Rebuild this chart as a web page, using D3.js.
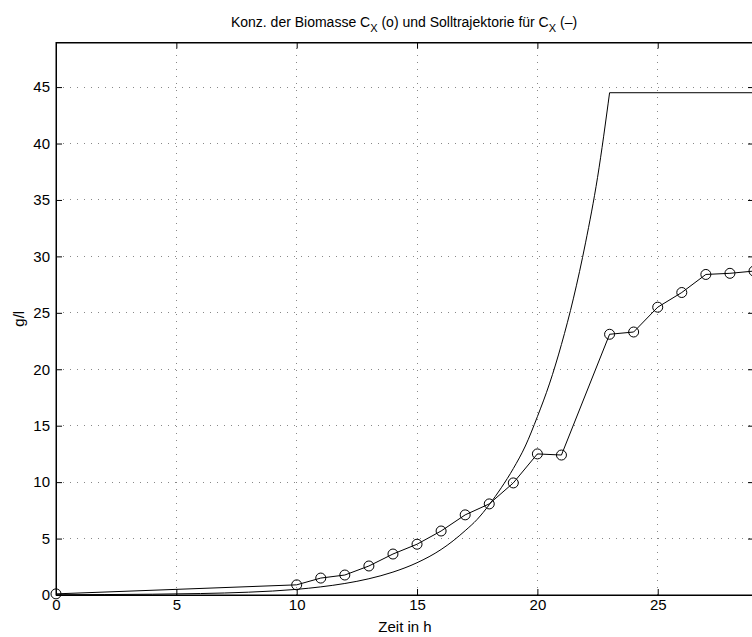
<!DOCTYPE html>
<html><head><meta charset="utf-8">
<script src="https://cdn.jsdelivr.net/npm/d3@7"></script>
<style>html,body{margin:0;padding:0;background:#fff;}svg{display:block;}</style>
</head><body>
<script>
// measured biomass concentration (circles)
const measTime = [0, 10, 11, 12, 13, 14, 15, 16, 17, 18, 19, 20, 21, 23, 24, 25, 26, 27, 28, 29];
const measCx   = [0.1, 0.9, 1.5, 1.77, 2.57, 3.63, 4.5, 5.67, 7.1, 8.07, 9.93, 12.5, 12.4, 23.1, 23.3, 25.5, 26.8, 28.4, 28.5, 28.7];
// reference trajectory (solid line), rising part
const refTime = [0, 2, 4, 6, 8, 10, 11, 12, 13, 14, 15, 16, 16.5, 17, 17.5, 18, 18.5, 19, 19.5, 20, 20.5, 21, 21.5, 22, 22.5, 23];
const refCx   = [0.02, 0.04, 0.07, 0.13, 0.25, 0.5, 0.72, 1.02, 1.44, 2.03, 2.86, 4.03, 4.8, 5.7, 6.7, 8.0, 9.5, 11.2, 13.2, 15.8, 18.7, 22.2, 26.3, 31.2, 37.0, 44.5];
// plateau of the reference trajectory
const plateauTime = [23, 29];
const plateauCx   = [44.5, 44.5];
const xTicks = [0, 5, 10, 15, 20, 25];
const yTicks = [0, 5, 10, 15, 20, 25, 30, 35, 40, 45];
const xDomain = [0, 29];
const yDomain = [0, 48.95];

const W = 752, H = 637;
const L = 56, R = 754, T = 42.5, B = 595;
const FS = 15;
const FONT = "'Liberation Sans', Arial, Helvetica, sans-serif";
const svg = d3.select("body").append("svg").attr("width", W).attr("height", H)
  .style("font-family", FONT);
const x = d3.scaleLinear().domain(xDomain).range([L, R]);
const y = d3.scaleLinear().domain(yDomain).range([B, T]);

// grid
const g = svg.append("g");
g.selectAll(".vg").data(xTicks.filter(d => d > 0)).join("line")
  .attr("x1", d => x(d)).attr("x2", d => x(d)).attr("y1", B).attr("y2", T)
  .attr("stroke", "#888").attr("stroke-width", 1).attr("stroke-dasharray", "1,6").attr("shape-rendering","crispEdges");
g.selectAll(".hg").data(yTicks.filter(d => d > 0)).join("line")
  .attr("x1", L).attr("x2", R).attr("y1", d => y(d)).attr("y2", d => y(d))
  .attr("stroke", "#888").attr("stroke-width", 1).attr("stroke-dasharray", "1,6").attr("shape-rendering","crispEdges");

// box
svg.append("rect").attr("x", L).attr("y", T).attr("width", R - L).attr("height", B - T)
  .attr("fill", "none").attr("stroke", "#000").attr("stroke-width", 1);

// axes (ticks inward)
const ax = svg.append("g").attr("transform", `translate(0,${B})`)
  .call(d3.axisBottom(x).tickValues(xTicks).tickSizeInner(-6).tickSizeOuter(0).tickPadding(4));
const axT = svg.append("g").attr("transform", `translate(0,${T})`)
  .call(d3.axisTop(x).tickValues(xTicks).tickSizeInner(-6).tickSizeOuter(0).tickFormat(""));
const ay = svg.append("g").attr("transform", `translate(${L},0)`)
  .call(d3.axisLeft(y).tickValues(yTicks).tickSizeInner(-6).tickSizeOuter(0).tickPadding(6));
const ayR = svg.append("g").attr("transform", `translate(${R},0)`)
  .call(d3.axisRight(y).tickValues(yTicks).tickSizeInner(-6).tickSizeOuter(0).tickFormat(""));
[ax, axT, ay, ayR].forEach(a => {
  a.select(".domain").attr("stroke", "#000");
  a.selectAll(".tick line").attr("stroke", "#000");
  a.selectAll("text").attr("font-size", FS).attr("fill", "#000").attr("font-family", FONT);
});

// reference trajectory
const refData = refTime.map((t, i) => [t, refCx[i]]);
svg.append("path").datum(refData)
  .attr("d", d3.line().x(d => x(d[0])).y(d => y(d[1])).curve(d3.curveMonotoneX))
  .attr("fill", "none").attr("stroke", "#000").attr("stroke-width", 1);
const platData = plateauTime.map((t, i) => [t, plateauCx[i]]);
svg.append("path").datum(platData)
  .attr("d", d3.line().x(d => x(d[0])).y(d => y(d[1])))
  .attr("fill", "none").attr("stroke", "#000").attr("stroke-width", 1);

// measured series
const measData = measTime.map((t, i) => [t, measCx[i]]);
svg.append("path").datum(measData)
  .attr("d", d3.line().x(d => x(d[0])).y(d => y(d[1])))
  .attr("fill", "none").attr("stroke", "#000").attr("stroke-width", 1);
svg.selectAll(".pt").data(measData).join("circle")
  .attr("cx", d => x(d[0])).attr("cy", d => y(d[1])).attr("r", 5)
  .attr("fill", "none").attr("stroke", "#000").attr("stroke-width", 1);

// title
const title = svg.append("text").attr("x", 404).attr("y", 27).attr("text-anchor", "middle")
  .attr("font-size", 14).attr("fill", "#000");
title.append("tspan").text("Konz. der Biomasse C");
title.append("tspan").attr("font-size", 11).attr("dy", 5).text("X");
title.append("tspan").attr("dy", -5).text(" (o) und Solltrajektorie für C");
title.append("tspan").attr("font-size", 11).attr("dy", 5).text("X");
title.append("tspan").attr("dy", -5).text(" (–)");

// axis labels
svg.append("text").attr("x", x(14.5)).attr("y", 632).attr("text-anchor", "middle")
  .attr("font-size", FS).attr("fill", "#000").text("Zeit in h");
svg.append("text").attr("transform", `translate(24,${(T + B) / 2}) rotate(-90)`)
  .attr("text-anchor", "middle").attr("font-size", FS).attr("fill", "#000").text("g/l");
</script>
</body></html>
